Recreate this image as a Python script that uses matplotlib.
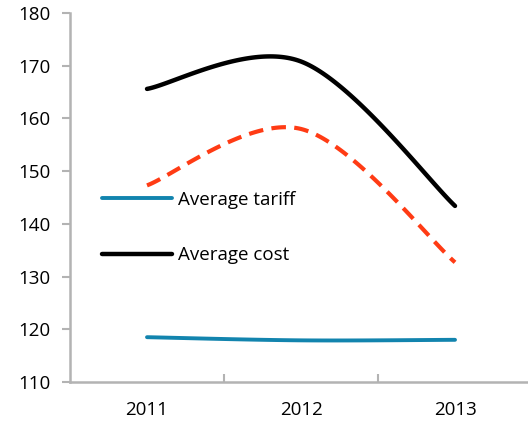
import numpy as np
import matplotlib.pyplot as plt

# Daten
jahre = ["2011", "2012", "2013"]
avg_tariff = [118.5, 117.9, 118.0]
avg_cost = [165.6, 170.8, 143.4]
cost_dashed = [147.3, 158.0, 132.7]


def glatt(y, n=60):
    # Excel-artige Glaettung (Bezier mit Catmull-Rom Kontrollpunkten)
    x = np.arange(len(y), dtype=float)
    y = np.asarray(y, dtype=float)
    pts = np.column_stack([x, y])
    xs, ys = [], []
    for i in range(len(pts) - 1):
        p0 = pts[i]
        p1 = pts[i + 1]
        pm = pts[i - 1] if i > 0 else pts[i]
        pp = pts[i + 2] if i + 2 < len(pts) else pts[i + 1]
        c1 = p0 + (p1 - pm) / 6
        c2 = p1 - (pp - p0) / 6
        t = np.linspace(0, 1, n)[:, None]
        b = ((1 - t) ** 3) * p0 + 3 * ((1 - t) ** 2) * t * c1 + 3 * (1 - t) * t ** 2 * c2 + t ** 3 * p1
        xs.extend(b[:, 0])
        ys.extend(b[:, 1])
    return np.array(xs), np.array(ys)


plt.rcParams['font.family'] = ['Open Sans', 'DejaVu Sans']
fs = 13.5

fig = plt.figure(figsize=(5.28, 4.25), dpi=100)
ax = fig.add_axes([0.1326, 0.1012, 0.875, 0.8682])

x, y = glatt(avg_cost)
ax.plot(x, y, color="black", lw=3.2, solid_capstyle="round", label="Average cost", zorder=3)
x, y = glatt(cost_dashed)
ax.plot(x, y, color="#ff3b14", lw=3.0, dashes=(3.5, 2), label="_nolegend_", zorder=3)
x, y = glatt(avg_tariff)
ax.plot(x, y, color="#1284ae", lw=2.8, solid_capstyle="round", label="Average tariff", zorder=3)

ax.set_xlim(-0.5, 2.5)
ax.set_ylim(110, 180)
ax.set_yticks(np.arange(110, 181, 10))
ax.set_xticks(range(len(jahre)))
ax.set_xticklabels(jahre)
ax.set_xticks([0.5, 1.5], minor=True)

for s in ["top", "right"]:
    ax.spines[s].set_visible(False)
for s in ["left", "bottom"]:
    ax.spines[s].set_color("#b3b3b3")
    ax.spines[s].set_linewidth(1.8)

ax.tick_params(axis="y", direction="out", length=6, width=1.5, color="#b3b3b3",
               labelsize=fs, pad=8)
ax.tick_params(axis="x", which="major", length=0, labelsize=fs, pad=14)
ax.tick_params(axis="x", which="minor", direction="in", length=6, width=1.5, color="#b3b3b3")

h, l = ax.get_legend_handles_labels()
order = [1, 0]
ax.legend([h[i] for i in order], [l[i] for i in order], frameon=False,
          loc="upper left", bbox_to_anchor=(0.053, 0.539), fontsize=fs,
          handlelength=3.73, handletextpad=0.3, labelspacing=2.0, borderaxespad=0)

plt.savefig("out.png", dpi=100)
